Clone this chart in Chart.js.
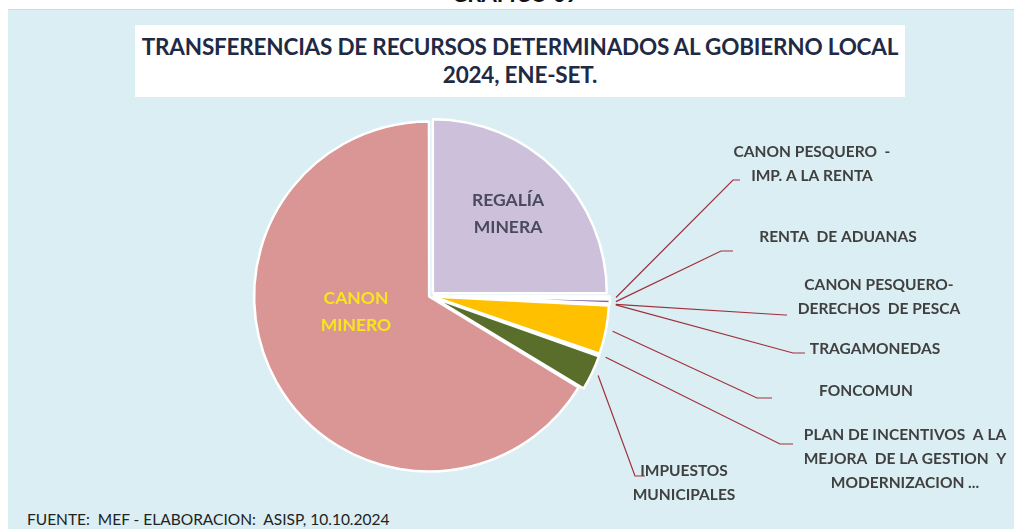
<!DOCTYPE html>
<html>
<head>
<meta charset="utf-8">
<script src="https://cdn.jsdelivr.net/npm/chart.js@4.4.1/dist/chart.umd.min.js"></script>
<style>
  html, body { margin: 0; padding: 0; background: #fff; }
  body { width: 1014px; height: 529px; position: relative; overflow: hidden; font-family: Lato, "Open Sans", sans-serif; }
  #heading { position: absolute; left: 0; width: 1030px; top: -20px; text-align: center; font-weight: bold; font-size: 22px; color: #111; }
  #panel { position: absolute; left: 8px; top: 9px; right: 0; bottom: 0; background: #daeef3; border-top: 1px solid #c6dde3; }
  #titlebox { position: absolute; left: 135px; top: 25px; width: 770px; height: 72px; background: #fff; text-align: center;
    font-weight: bold; font-size: 22.5px; color: #1f2a44; line-height: 28px; padding-top: 8px; box-sizing: border-box; letter-spacing: -0.2px; white-space: nowrap; }
  #footer { position: absolute; left: 27px; top: 510px; font-size: 15.5px; color: #222; }
  canvas { position: absolute; left: 0; top: 0; }
</style>
</head>
<body>
<div id="heading">GRAFICO 09</div>
<div id="panel"></div>
<div id="titlebox">TRANSFERENCIAS DE RECURSOS DETERMINADOS AL GOBIERNO LOCAL<br>2024, ENE-SET.</div>
<div id="footer">FUENTE:&nbsp; MEF - ELABORACION:&nbsp; ASISP, 10.10.2024</div>
<canvas id="pie" width="1014" height="529"></canvas>
<script>
const categorias = [
  "REGALÍA MINERA",
  "CANON PESQUERO - IMP. A LA RENTA",
  "RENTA DE ADUANAS",
  "CANON PESQUERO- DERECHOS DE PESCA",
  "TRAGAMONEDAS",
  "FONCOMUN",
  "PLAN DE INCENTIVOS A LA MEJORA DE LA GESTION Y MODERNIZACION ...",
  "IMPUESTOS MUNICIPALES",
  "CANON MINERO"
];
const porcentajes = [25.0, 0.25, 0.45, 0.03, 0.05, 4.5, 0.1, 3.3, 66.3];
const colores = ["#ccc0da", "#9bbb59", "#8064a2", "#c0504d", "#4bacc6", "#ffc000", "#f79646", "#5a6e2c", "#d99694"];
const desplaz = [16, 12, 12, 12, 12, 12, 12, 12, 4];

// etiquetas externas: líneas de texto, centro del texto, fin de la línea guía
const etiquetas = [
  null,
  { lineas: ["CANON PESQUERO  -", "IMP. A LA RENTA"], x: 812, y: 152, fin: [[733, 180], [740, 180]] },
  { lineas: ["RENTA  DE ADUANAS"], x: 838, y: 237, fin: [[721, 251], [733, 251]] },
  { lineas: ["CANON PESQUERO-", "DERECHOS  DE PESCA"], x: 879, y: 285, fin: [[785, 315], [787, 315]] },
  { lineas: ["TRAGAMONEDAS"], x: 875, y: 349, fin: [[793, 353], [805, 353]] },
  { lineas: ["FONCOMUN"], x: 866, y: 391, fin: [[757, 398], [772, 398]] },
  { lineas: ["PLAN DE INCENTIVOS  A LA", "MEJORA  DE LA GESTION  Y", "MODERNIZACION ..."], x: 905, y: 435, fin: [[780, 444], [793, 444]] },
  { lineas: ["IMPUESTOS", "MUNICIPALES"], x: 684, y: 471, fin: [[635, 476], [645, 476]] },
  null
];
const internas = [
  { lineas: ["REGALÍA", "MINERA"], x: 508, y: 200, color: "#4a4a5c" },
  null, null, null, null, null, null, null,
  { lineas: ["CANON", "MINERO"], x: 356, y: 298, color: "#f7e51e" }
];

const etiquetasPlugin = {
  id: 'etiquetas',
  afterDatasetsDraw(chart) {
    const ctx = chart.ctx;
    const meta = chart.getDatasetMeta(0);
    ctx.save();
    meta.data.forEach((arc, i) => {
      const p = arc.getProps(['x', 'y', 'startAngle', 'endAngle', 'outerRadius'], true);
      const mid = (p.startAngle + p.endAngle) / 2;
      const off = desplaz[i];
      const cx = p.x + Math.cos(mid) * off;
      const cy = p.y + Math.sin(mid) * off;
      const e = etiquetas[i];
      if (e) {
        const sx = cx + Math.cos(mid) * p.outerRadius;
        const sy = cy + Math.sin(mid) * p.outerRadius;
        ctx.strokeStyle = "#a0303a";
        ctx.lineWidth = 1.2;
        ctx.beginPath();
        ctx.moveTo(sx, sy);
        ctx.lineTo(e.fin[0][0], e.fin[0][1]);
        ctx.lineTo(e.fin[1][0], e.fin[1][1]);
        ctx.stroke();
        ctx.fillStyle = "#404040";
        ctx.font = "bold 15.5px Lato, 'Open Sans', sans-serif";
        ctx.textAlign = "center";
        ctx.textBaseline = "middle";
        e.lineas.forEach((t, k) => ctx.fillText(t, e.x, e.y + k * 24));
      }
      const n = internas[i];
      if (n) {
        ctx.fillStyle = n.color;
        ctx.font = "bold 17.5px Lato, 'Open Sans', sans-serif";
        ctx.textAlign = "center";
        ctx.textBaseline = "middle";
        n.lineas.forEach((t, k) => ctx.fillText(t, n.x, n.y + k * 27));
      }
    });
    ctx.restore();
  }
};

new Chart(document.getElementById('pie'), {
  type: 'pie',
  data: {
    labels: categorias,
    datasets: [{
      data: porcentajes,
      backgroundColor: colores,
      borderColor: "#ffffff",
      borderWidth: 2.5,
      offset: desplaz
    }]
  },
  options: {
    responsive: false,
    animation: false,
    radius: 174,
    layout: { padding: { left: 0, right: 154, top: 63, bottom: 0 } },
    plugins: {
      legend: { display: false },
      tooltip: { enabled: false }
    }
  },
  plugins: [etiquetasPlugin]
});
</script>
</body>
</html>
